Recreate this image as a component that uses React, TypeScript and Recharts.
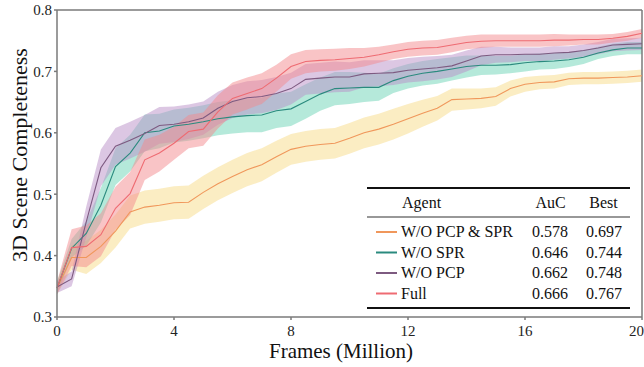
import React from "react";
import { ComposedChart, Area, Line, XAxis, YAxis, ReferenceLine } from "recharts";

const frames = [0, 0.5, 1, 1.5, 2, 2.5, 3, 3.5, 4, 4.5, 5, 5.5, 6, 6.5, 7, 7.5, 8, 8.5, 9, 9.5, 10, 10.5, 11, 11.5, 12, 12.5, 13, 13.5, 14, 14.5, 15, 15.5, 16, 16.5, 17, 17.5, 18, 18.5, 19, 19.5, 20];

const noPcpSpr = [0.347, 0.397, 0.397, 0.415, 0.44, 0.471, 0.479, 0.482, 0.486, 0.487, 0.503, 0.517, 0.529, 0.54, 0.548, 0.561, 0.573, 0.578, 0.581, 0.583, 0.591, 0.6, 0.606, 0.614, 0.623, 0.632, 0.64, 0.654, 0.655, 0.656, 0.659, 0.672, 0.679, 0.682, 0.683, 0.688, 0.689, 0.689, 0.69, 0.691, 0.693];
const noPcpSprSpread = [0.01, 0.02, 0.027, 0.027, 0.027, 0.027, 0.027, 0.027, 0.027, 0.027, 0.027, 0.027, 0.027, 0.027, 0.027, 0.026, 0.025, 0.025, 0.025, 0.025, 0.025, 0.025, 0.025, 0.025, 0.024, 0.022, 0.02, 0.018, 0.017, 0.016, 0.015, 0.013, 0.012, 0.011, 0.011, 0.01, 0.01, 0.01, 0.01, 0.01, 0.01];

const noSpr = [0.347, 0.412, 0.436, 0.482, 0.545, 0.567, 0.6, 0.603, 0.611, 0.614, 0.618, 0.623, 0.626, 0.628, 0.629, 0.636, 0.639, 0.651, 0.663, 0.672, 0.673, 0.674, 0.674, 0.685, 0.692, 0.697, 0.7, 0.704, 0.708, 0.71, 0.71, 0.711, 0.714, 0.716, 0.717, 0.719, 0.723, 0.73, 0.735, 0.738, 0.738];
const noSprSpread = [0.01, 0.015, 0.02, 0.028, 0.03, 0.03, 0.03, 0.028, 0.027, 0.027, 0.027, 0.027, 0.027, 0.027, 0.028, 0.028, 0.028, 0.028, 0.027, 0.027, 0.026, 0.024, 0.022, 0.02, 0.02, 0.02, 0.02, 0.019, 0.018, 0.016, 0.015, 0.014, 0.014, 0.013, 0.013, 0.012, 0.011, 0.01, 0.01, 0.01, 0.01];

const noPcp = [0.349, 0.362, 0.455, 0.543, 0.578, 0.588, 0.599, 0.612, 0.614, 0.618, 0.624, 0.64, 0.651, 0.657, 0.659, 0.664, 0.672, 0.687, 0.689, 0.691, 0.691, 0.696, 0.697, 0.698, 0.702, 0.704, 0.706, 0.709, 0.717, 0.725, 0.727, 0.727, 0.728, 0.728, 0.73, 0.731, 0.734, 0.738, 0.743, 0.744, 0.745];
const noPcpSpread = [0.01, 0.012, 0.025, 0.03, 0.03, 0.03, 0.03, 0.03, 0.029, 0.028, 0.027, 0.027, 0.027, 0.027, 0.027, 0.027, 0.026, 0.025, 0.025, 0.025, 0.024, 0.022, 0.021, 0.02, 0.02, 0.02, 0.019, 0.018, 0.017, 0.015, 0.013, 0.012, 0.011, 0.011, 0.011, 0.01, 0.01, 0.01, 0.01, 0.01, 0.01];

const full = [0.347, 0.413, 0.415, 0.434, 0.477, 0.501, 0.556, 0.567, 0.583, 0.602, 0.606, 0.634, 0.656, 0.664, 0.672, 0.689, 0.708, 0.716, 0.718, 0.719, 0.721, 0.723, 0.727, 0.732, 0.736, 0.738, 0.739, 0.743, 0.747, 0.749, 0.75, 0.75, 0.75, 0.75, 0.751, 0.751, 0.752, 0.752, 0.754, 0.757, 0.762];
const fullSpread = [0.01, 0.03, 0.034, 0.035, 0.035, 0.035, 0.033, 0.03, 0.027, 0.027, 0.027, 0.027, 0.026, 0.026, 0.025, 0.022, 0.02, 0.019, 0.018, 0.018, 0.017, 0.015, 0.013, 0.012, 0.012, 0.012, 0.012, 0.012, 0.011, 0.011, 0.01, 0.01, 0.01, 0.01, 0.01, 0.009, 0.008, 0.008, 0.007, 0.007, 0.007];

const agents = ["W/O PCP & SPR", "W/O SPR", "W/O PCP", "Full"];
const aucValues = ["0.578", "0.646", "0.662", "0.666"];
const bestValues = ["0.697", "0.744", "0.748", "0.767"];
const xTicks = [0, 4, 8, 12, 16, 20];
const yTicks = [0.3, 0.4, 0.5, 0.6, 0.7, 0.8];

const lineColors = ["#F0975B", "#2A8A7E", "#7D5A80", "#EE6B72"];
const bandColors = ["#F7DC88", "#6BD4B6", "#B990C8", "#F48A8D"];

const seriesKeys = ["o", "t", "p", "r"];
const means = [noPcpSpr, noSpr, noPcp, full];
const spreads = [noPcpSprSpread, noSprSpread, noPcpSpread, fullSpread];

const rows = frames.map((x, i) => {
  const row: any = { x };
  seriesKeys.forEach((k, s) => {
    row[k] = means[s][i];
    row[k + "Band"] = [means[s][i] - spreads[s][i], means[s][i] + spreads[s][i]];
  });
  return row;
});

const FONT = "'Liberation Serif', 'DejaVu Serif', serif";
const AXIS = "#7a7a7a";

export default function App() {
  const legendLeft = 367;
  const legendRight = 630;
  const rowYs = [237, 257.5, 278, 298.5];
  return (
    <div style={{ position: "absolute", left: 0, top: 0, width: 644, height: 367, background: "#fff" }}>
      <ComposedChart width={644} height={367} data={rows} margin={{ top: 10, right: 2, left: 0, bottom: 0 }}>
        <XAxis
          dataKey="x"
          type="number"
          domain={[0, 20]}
          ticks={xTicks}
          height={50}
          stroke={AXIS}
          strokeWidth={1.5}
          tickSize={3}
          tickMargin={5}
          tick={{ fill: "#222", fontSize: 15, fontFamily: FONT }}
        />
        <YAxis
          type="number"
          domain={[0.3, 0.8]}
          ticks={yTicks}
          width={57}
          stroke={AXIS}
          strokeWidth={1.5}
          tickSize={3}
          tickMargin={2}
          tickFormatter={(v: number) => v.toFixed(1)}
          tick={{ fill: "#222", fontSize: 15, fontFamily: FONT }}
        />
        <ReferenceLine y={0.8} stroke={AXIS} strokeWidth={1.5} />
        <ReferenceLine x={20} stroke={AXIS} strokeWidth={1.5} />
        {seriesKeys.map((k, s) => [
          <Area
            key={k + "band"}
            type="linear"
            dataKey={k + "Band"}
            stroke="none"
            fill={bandColors[s]}
            fillOpacity={0.5}
            isAnimationActive={false}
            dot={false}
            activeDot={false}
          />,
          <Line
            key={k + "line"}
            type="linear"
            dataKey={k}
            stroke={lineColors[s]}
            strokeWidth={1.1}
            dot={false}
            activeDot={false}
            isAnimationActive={false}
          />,
        ])}
      </ComposedChart>
      <svg width={644} height={367} style={{ position: "absolute", left: 0, top: 0, pointerEvents: "none" }}>
        <text x={341} y={358} textAnchor="middle" fontSize={21} fontFamily={FONT} fill="#111">
          Frames (Million)
        </text>
        <text x={27} y={155} textAnchor="middle" fontSize={22} fontFamily={FONT} fill="#111" transform="rotate(-90 27 155)">
          3D Scene Completeness
        </text>
        <line x1={legendLeft} x2={legendRight} y1={188} y2={188} stroke="#111" strokeWidth={1.8} />
        <line x1={legendLeft} x2={legendRight} y1={217} y2={217} stroke="#333" strokeWidth={1.2} />
        <line x1={legendLeft} x2={legendRight} y1={308} y2={308} stroke="#111" strokeWidth={1.8} />
        <text x={402} y={208} fontSize={16} fontFamily={FONT} fill="#111">Agent</text>
        <text x={550.5} y={208} textAnchor="middle" fontSize={16} fontFamily={FONT} fill="#111">AuC</text>
        <text x={603.5} y={208} textAnchor="middle" fontSize={16} fontFamily={FONT} fill="#111">Best</text>
        {agents.map((a, i) => (
          <g key={a}>
            <line x1={376} x2={397} y1={rowYs[i] - 5} y2={rowYs[i] - 5} stroke={lineColors[i]} strokeWidth={2} />
            <text x={401} y={rowYs[i]} fontSize={16} fontFamily={FONT} fill="#111">{a}</text>
            <text x={550} y={rowYs[i]} textAnchor="middle" fontSize={16} fontFamily={FONT} fill="#111">{aucValues[i]}</text>
            <text x={604} y={rowYs[i]} textAnchor="middle" fontSize={16} fontFamily={FONT} fill="#111">{bestValues[i]}</text>
          </g>
        ))}
      </svg>
    </div>
  );
}
